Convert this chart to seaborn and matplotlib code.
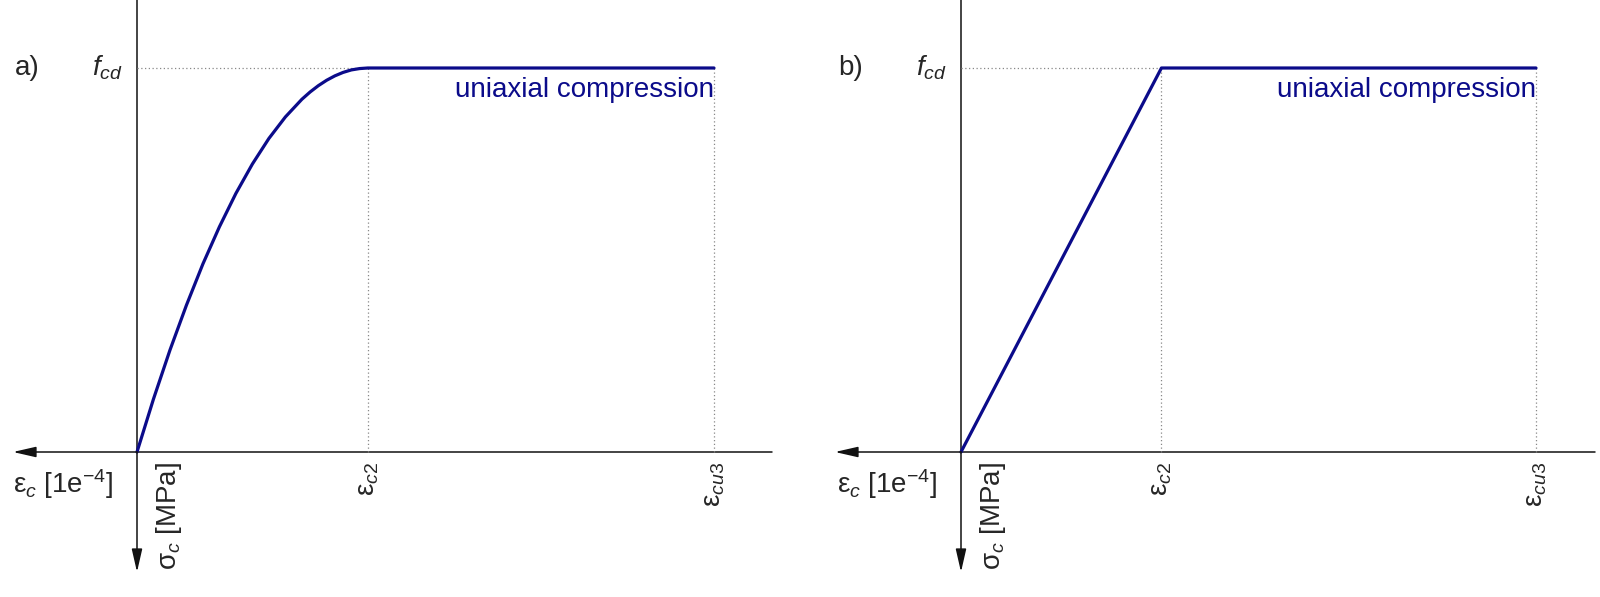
import matplotlib
matplotlib.use('Agg')
import matplotlib.pyplot as plt
import seaborn as sns

# strain in 1e-4, stress in MPa
fcd = 20.0
eps_cu3 = 35.0

# a) parabola-rectangle
eps_c2_a = 14.0
strain_a = [0, 1, 2, 3, 4, 5, 6, 7, 8, 9, 10, 10.5, 11, 11.5, 12, 12.5, 13, 13.5, 14, 35]
stress_a = [0, 2.76, 5.31, 7.65, 9.80, 11.73, 13.47, 15.0, 16.33, 17.45,
            18.37, 18.75, 19.08, 19.36, 19.59, 19.77, 19.90, 19.97, 20.0, 20.0]

# b) bilinear
eps_c2_b = 12.2
strain_b = [0, 12.2, 35]
stress_b = [0, 20.0, 20.0]

panel_labels = ['a)', 'b)']
curve_label = 'uniaxial compression'

sns.set_style('white')
plt.rcParams['font.family'] = ['Liberation Sans', 'DejaVu Sans']
plt.rcParams['mathtext.fontset'] = 'custom'
plt.rcParams['mathtext.rm'] = 'Liberation Sans'
plt.rcParams['mathtext.it'] = 'Liberation Sans:italic'

navy = '#0b0b8a'
axis_col = '#111111'
fs = 20

fig = plt.figure(figsize=(16, 5.97), dpi=100)


def draw_panel(ax, strain, stress, eps_c2, label, x0_px, x_left_px, tip_px, end_px, xcu3_px):
    # pixel -> data mapping for this panel
    sx = (xcu3_px - x0_px) / eps_cu3
    sy = (452 - 68) / fcd
    ax.set_xlim((x_left_px - x0_px) / sx, (x_left_px + 800 - x0_px) / sx)
    ax.set_ylim(-(597 - 452) / sy, 452 / sy)
    ax.axis('off')

    x_tip = (tip_px - x0_px) / sx
    x_end = (end_px - x0_px) / sx
    y_top = 452 / sy
    y_tip = -(572 - 452) / sy

    # axes drawn as arrows
    arrow = dict(arrowstyle='-|>,head_length=0.7,head_width=0.16',
                 color=axis_col, lw=1.1, shrinkA=0, shrinkB=0, mutation_scale=20)
    ax.plot([0, x_end], [0, 0], color=axis_col, lw=1.1)
    ax.annotate('', xy=(x_tip, 0), xytext=(0, 0), arrowprops=arrow)
    ax.plot([0, 0], [0, y_top], color=axis_col, lw=1.1)
    ax.annotate('', xy=(0, y_tip), xytext=(0, 0), arrowprops=arrow)

    # dotted guides
    dot = dict(color='#888888', lw=0.9, ls=(0, (1, 2)))
    ax.plot([0, eps_c2], [fcd, fcd], **dot)
    ax.plot([eps_c2, eps_c2], [0, fcd], **dot)
    ax.plot([eps_cu3, eps_cu3], [0, fcd], **dot)

    sns.lineplot(x=strain, y=stress, ax=ax, color=navy, linewidth=2.3)

    ax.annotate(label, xy=(0, fcd), xytext=(-110, 0), textcoords='offset pixels',
                ha='center', va='center', fontsize=fs)
    ax.annotate('$f_{cd}$', xy=(0, fcd), xytext=(-14, 0), textcoords='offset pixels',
                ha='right', va='center', fontsize=fs)
    ax.annotate(curve_label, xy=(eps_cu3, fcd), xytext=(0, -22),
                textcoords='offset pixels', ha='right', va='center',
                fontsize=fs, color=navy)
    ax.annotate(r'ε$_{\mathit{c}}$ [1e$^{\mathrm{-4}}$]', xy=(0, 0), xytext=(-24, -32),
                textcoords='offset pixels', ha='right', va='center', fontsize=fs)
    ax.annotate(r'σ$_{\mathit{c}}$ [MPa]', xy=(0, 0), xytext=(17, -10),
                textcoords='offset pixels', ha='left', va='top', fontsize=fs,
                rotation=90)
    ax.annotate(r'$\mathrm{ε}_{\mathit{c2}}$', xy=(eps_c2, 0), xytext=(0, -10),
                textcoords='offset pixels', ha='center', va='top', fontsize=fs,
                rotation=90)
    ax.annotate(r'$\mathrm{ε}_{\mathit{cu3}}$', xy=(eps_cu3, 0), xytext=(0, -10),
                textcoords='offset pixels', ha='center', va='top', fontsize=fs,
                rotation=90)


ax_a = fig.add_axes([0, 0, 0.5, 1])
ax_b = fig.add_axes([0.5, 0, 0.5, 1])
draw_panel(ax_a, strain_a, stress_a, eps_c2_a, panel_labels[0], 137, 0, 13, 772, 714)
draw_panel(ax_b, strain_b, stress_b, eps_c2_b, panel_labels[1], 961, 800, 835, 1595, 1536)

fig.savefig('out.png', dpi=100)
